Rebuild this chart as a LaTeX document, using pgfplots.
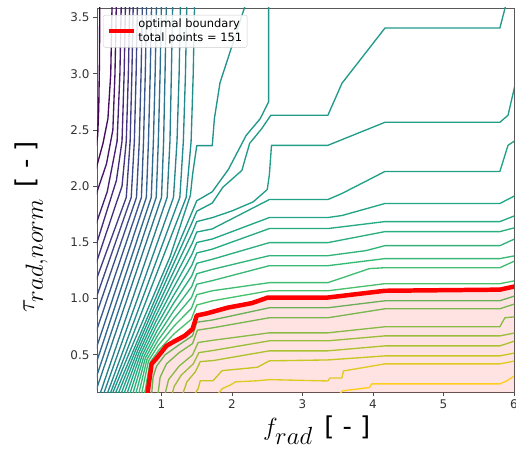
\documentclass[border=0pt]{standalone}
\usepackage{fontspec}
\setmainfont{DejaVu Sans}
\usepackage{pgfplots}
\pgfplotsset{compat=1.18}
\pgfplotsset{colormap={vir}{rgb255=(68,1,84) rgb255=(72,36,117) rgb255=(65,68,135) rgb255=(53,95,141) rgb255=(42,120,142) rgb255=(33,145,140) rgb255=(34,168,132) rgb255=(68,191,112) rgb255=(122,209,81) rgb255=(189,223,38) rgb255=(253,231,37)}}
\pgfplotsset{cl/.style={color of colormap={#1 of vir}, line width=1.35pt, line join=round, mark=none, forget plot}}
\begin{document}
\begin{tikzpicture}
\begin{axis}[name=ax, scale only axis, width=417bp, height=384bp,
  xmin=0.085, xmax=6, ymin=0.17, ymax=3.584,
  xtick={1,2,3,4,5,6}, ytick={0.5,1,1.5,2,2.5,3,3.5},
  yticklabel style={/pgf/number format/.cd, fixed, fixed zerofill, precision=1},
  /pgf/number format/assume math mode=true,
  tick label style={font=\fontsize{12}{14}\selectfont, text=black!80},
  tick pos=left, tick align=outside, major tick length=4bp,
  tick style={black!70, line width=0.8bp},
  axis line style={black!65, line width=0.9bp},
  xlabel={{\fontsize{38}{42}\selectfont$f_{rad}$}\hspace{0.45em}[ - ]},
  ylabel={{\fontsize{38}{42}\selectfont$\tau_{rad,norm}$}\hspace{0.45em}[ - ]},
  label style={font=\fontsize{26}{30}\selectfont},
  xlabel style={at={(axis description cs:0.527,-0.10)}, anchor=center},
  ylabel style={at={(axis description cs:-0.158,0.43)}, anchor=center},
  legend style={at={(0.015,0.982)}, anchor=north west, draw=black!20, rounded corners=2pt, fill=white, fill opacity=0.85, text opacity=1, font=\fontsize{11.5}{12.5}\selectfont, inner xsep=3pt, inner ysep=2pt},
  legend cell align=left,
  legend image code/.code={\draw[#1] (0cm,0cm) -- (0.9cm,0cm);},
]
% upper-left family
\addplot[cl=0] coordinates {(0.125,3.65) (0.12,3.1) (0.11,2.7) (0.095,2.45) (0.07,2.35)};
\addplot[cl=30] coordinates {(0.30,3.65) (0.28,3.0) (0.24,2.6) (0.17,2.38) (0.07,2.15)};
\addplot[cl=60] coordinates {(0.36,3.65) (0.34,3.0) (0.31,2.5) (0.22,2.2) (0.07,1.92)};
\addplot[cl=90] coordinates {(0.43,3.65) (0.41,3.0) (0.37,2.4) (0.23,1.95) (0.07,1.66)};
\addplot[cl=120] coordinates {(0.49,3.65) (0.47,3.0) (0.44,2.4) (0.36,2.05) (0.07,1.47)};
\addplot[cl=150] coordinates {(0.55,3.65) (0.53,3.0) (0.50,2.4) (0.44,2.0) (0.07,1.31)};
\addplot[cl=180] coordinates {(0.60,3.65) (0.58,3.0) (0.555,2.4) (0.50,1.9) (0.07,1.16)};
\addplot[cl=210] coordinates {(0.66,3.65) (0.64,3.0) (0.615,2.4) (0.57,1.9) (0.07,1.00)};
\addplot[cl=240] coordinates {(0.73,3.65) (0.71,3.0) (0.685,2.4) (0.645,1.9) (0.07,0.85)};
\addplot[cl=270] coordinates {(0.79,3.65) (0.77,3.0) (0.745,2.4) (0.715,1.9) (0.07,0.70)};
\addplot[cl=300] coordinates {(0.86,3.65) (0.84,3.0) (0.815,2.4) (0.785,1.9) (0.07,0.55)};
\addplot[cl=330] coordinates {(0.93,3.65) (0.91,3.0) (0.885,2.4) (0.855,1.9) (0.07,0.42)};
\addplot[cl=360] coordinates {(1.00,3.65) (0.98,3.0) (0.955,2.4) (0.925,1.9) (0.07,0.29)};
\addplot[cl=390] coordinates {(1.07,3.65) (1.05,3.0) (1.03,2.4) (1.00,1.9) (0.07,0.18)};
\addplot[cl=420] coordinates {(1.16,3.65) (1.14,3.0) (1.12,2.4) (1.08,1.9) (0.11,0.12)};
\addplot[cl=450] coordinates {(1.27,3.65) (1.25,3.0) (1.22,2.4) (1.17,1.9) (0.16,0.12)};
\addplot[cl=470] coordinates {(1.36,3.65) (1.34,3.0) (1.31,2.4) (1.26,1.9) (0.21,0.12)};
\addplot[cl=490] coordinates {(1.47,3.65) (1.45,3.0) (1.42,2.4) (1.35,1.9) (0.25,0.12)};
% middle lines from the top
\addplot[cl=510] coordinates {(2.21,3.65) (1.83,2.92) (1.75,2.6) (1.72,2.36) (1.50,2.36) (1.44,2.1) (1.41,1.92) (1.12,1.37) (0.845,0.965) (0.57,0.56) (0.30,0.15)};
\addplot[cl=525] coordinates {(2.52,3.65) (2.52,2.75) (2.40,2.60) (2.20,2.45) (1.95,2.15) (1.72,1.95) (1.50,1.87) (1.44,1.78) (1.165,1.37) (0.89,0.965) (0.615,0.56) (0.34,0.15)};
% lines from the right, above the boundary
\addplot[cl=540] coordinates {(0.382,0.15) (0.637,0.547) (0.897,0.923) (1.166,1.302) (1.438,1.684) (1.50,1.777) (1.72,1.85) (1.87,1.99) (2.14,2.14) (2.25,2.38) (2.42,2.51) (2.55,2.63) (3.36,2.63) (3.56,2.915) (4.17,3.406) (5.80,3.406) (5.90,3.65)};
\addplot[cl=555] coordinates {(0.424,0.15) (0.660,0.535) (0.905,0.880) (1.168,1.234) (1.436,1.587) (1.50,1.685) (1.72,1.72) (2.0,1.78) (2.3,1.86) (2.50,1.97) (2.53,2.1) (2.56,2.363) (3.36,2.363) (4.17,2.568) (5.80,2.568) (5.915,2.63) (6.02,2.915)};
\addplot[cl=570] coordinates {(0.465,0.15) (0.682,0.522) (0.912,0.838) (1.169,1.165) (1.435,1.491) (1.50,1.592) (1.72,1.62) (2.53,1.881) (3.36,1.881) (3.56,1.935) (4.17,2.131) (5.80,2.131) (5.915,2.363) (6.02,2.407)};
\addplot[cl=590] coordinates {(0.507,0.15) (0.704,0.509) (0.919,0.796) (1.170,1.097) (1.433,1.395) (1.50,1.499) (1.72,1.53) (2.53,1.721) (3.36,1.721) (3.56,1.739) (4.17,1.846) (5.80,1.846) (6.02,1.917)};
\addplot[cl=610] coordinates {(0.549,0.15) (0.726,0.496) (0.926,0.754) (1.172,1.029) (1.431,1.298) (1.50,1.406) (1.72,1.44) (2.53,1.623) (3.36,1.623) (4.17,1.685) (5.80,1.685) (6.02,1.739)};
\addplot[cl=630] coordinates {(0.591,0.15) (0.749,0.484) (0.934,0.711) (1.173,0.961) (1.429,1.202) (1.50,1.314) (1.72,1.35) (2.53,1.498) (3.36,1.498) (4.17,1.596) (5.80,1.596) (6.02,1.632)};
\addplot[cl=650] coordinates {(0.633,0.15) (0.771,0.471) (0.941,0.669) (1.175,0.893) (1.427,1.105) (1.50,1.221) (1.72,1.26) (2.53,1.382) (3.36,1.382) (3.9,1.427) (4.17,1.471) (5.80,1.471) (6.02,1.534)};
\addplot[cl=670] coordinates {(0.675,0.15) (0.793,0.458) (0.948,0.627) (1.176,0.825) (1.425,1.009) (1.50,1.128) (1.72,1.16) (2.53,1.293) (3.36,1.293) (4.17,1.356) (5.80,1.356) (6.02,1.382)};
\addplot[cl=690] coordinates {(0.716,0.15) (0.815,0.445) (0.955,0.585) (1.177,0.756) (1.424,0.913) (1.50,1.035) (1.72,1.07) (2.53,1.142) (3.36,1.142) (3.95,1.267) (4.17,1.275) (5.80,1.275) (6.02,1.338)};
\addplot[cl=710] coordinates {(0.758,0.15) (0.838,0.433) (0.963,0.543) (1.179,0.688) (1.422,0.816) (1.50,0.943) (1.72,0.98) (2.53,1.070) (3.36,1.070) (4.17,1.133) (5.80,1.133) (6.02,1.16)};
% lines below the boundary
\addplot[cl=740] coordinates {(0.86,0.15) (0.88,0.30) (0.93,0.40) (1.05,0.50) (1.25,0.59) (1.44,0.67) (1.50,0.79) (1.72,0.81) (2.53,0.919) (3.36,0.919) (4.17,0.981) (5.80,0.981) (6.02,1.026)};
\addplot[cl=770] coordinates {(0.95,0.15) (0.98,0.30) (1.07,0.42) (1.25,0.52) (1.44,0.60) (1.51,0.72) (1.72,0.74) (2.53,0.83) (3.36,0.83) (4.17,0.910) (5.80,0.910) (6.02,0.955)};
\addplot[cl=800] coordinates {(1.05,0.15) (1.10,0.28) (1.25,0.40) (1.44,0.50) (1.52,0.61) (1.73,0.63) (2.53,0.696) (3.36,0.696) (4.17,0.750) (5.80,0.750) (5.87,0.83) (6.02,0.839)};
\addplot[cl=830] coordinates {(1.15,0.15) (1.18,0.22) (1.28,0.32) (1.45,0.42) (1.53,0.52) (1.74,0.54) (2.53,0.625) (3.36,0.625) (4.17,0.669) (5.80,0.669) (6.02,0.696)};
\addplot[cl=860] coordinates {(1.30,0.15) (1.36,0.26) (1.48,0.35) (1.55,0.44) (1.74,0.45) (2.53,0.536) (3.36,0.536) (4.17,0.580) (5.80,0.580) (6.02,0.625)};
\addplot[cl=900] coordinates {(1.47,0.15) (1.52,0.20) (1.55,0.27) (1.73,0.27) (1.86,0.36) (2.36,0.39) (2.53,0.447) (3.36,0.455) (4.17,0.491) (5.80,0.491) (6.02,0.518)};
\addplot[cl=950] coordinates {(1.80,0.15) (1.86,0.20) (1.97,0.23) (2.05,0.26) (2.36,0.27) (2.53,0.28) (3.36,0.268) (3.39,0.295) (3.56,0.295) (3.58,0.357) (4.17,0.42) (5.80,0.42) (6.02,0.447)};
\addplot[cl=1000] coordinates {(3.52,0.15) (3.57,0.18) (3.95,0.21) (3.98,0.242) (5.80,0.242) (5.90,0.27) (6.02,0.32)};
% feasible region
\addplot[draw=none, fill=red, fill opacity=0.11, forget plot] coordinates {(0.80,0.15) (0.86,0.42) (0.93,0.47) (1.07,0.58) (1.18,0.62) (1.33,0.67) (1.44,0.73) (1.50,0.85) (1.65,0.87) (1.94,0.92) (2.28,0.96) (2.51,1.01) (3.36,1.01) (4.17,1.07) (5.80,1.08) (6.02,1.11) (6.02,0.10) (0.80,0.10)};
% optimal boundary
\addplot[red, line width=4.5pt, line join=round, mark=none] coordinates {(0.80,0.15) (0.86,0.42) (0.93,0.47) (1.07,0.58) (1.18,0.62) (1.33,0.67) (1.44,0.73) (1.50,0.85) (1.65,0.87) (1.94,0.92) (2.28,0.96) (2.51,1.01) (3.36,1.01) (4.17,1.07) (5.80,1.08) (6.02,1.11)};
\addlegendentry{\shortstack[l]{optimal boundary\\total points = 151}}
\end{axis}
\pgfresetboundingbox
\path (ax.south west) ++(-97bp,-62bp) rectangle ++(516bp,454bp);
\end{tikzpicture}
\end{document}
